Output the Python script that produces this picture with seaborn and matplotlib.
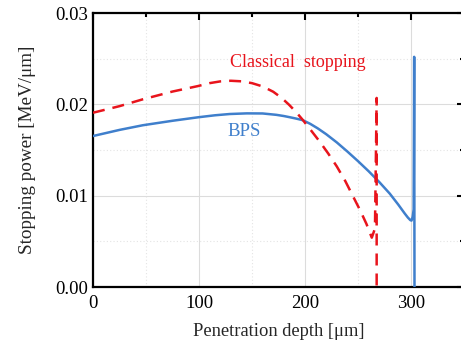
import numpy as np
import pandas as pd
import matplotlib
matplotlib.use("Agg")
import matplotlib.pyplot as plt
from matplotlib.ticker import MultipleLocator
import seaborn as sns

# Data
bps_depth = [0, 25, 47, 75, 99, 115, 129, 145, 160, 173, 180, 186, 192, 198, 205, 212, 220,
             230, 240, 250, 260, 270, 280, 288, 294, 297, 299.3, 300.5, 301.6, 302.5, 303, 303.3]
bps_power = [0.01653, 0.0172, 0.01771, 0.0182, 0.01858, 0.0188, 0.01894, 0.01901, 0.0190,
             0.01885, 0.01872, 0.01858, 0.01843, 0.01826, 0.01786, 0.01737, 0.01673, 0.01583,
             0.01483, 0.01378, 0.01268, 0.0115, 0.01022, 0.00902, 0.00806, 0.00761, 0.00733,
             0.00727, 0.0077, 0.0085, 0.0252, 0.0]

cls_depth = [0, 25, 47, 75, 99, 110, 120, 130, 140, 150, 160, 170, 178, 185, 192, 198, 206,
             214, 222, 230, 238, 245, 252, 258, 263, 266, 267.6, 267.6]
cls_power = [0.01908, 0.0198, 0.02055, 0.0214, 0.0220, 0.02232, 0.02251, 0.02258, 0.02252,
             0.02232, 0.02196, 0.02138, 0.0207, 0.01995, 0.0191, 0.01828, 0.0171, 0.0159,
             0.0146, 0.0132, 0.0116, 0.0100, 0.0084, 0.0069, 0.0054, 0.0064, 0.0207, 0.0]

x_ticks = [0, 100, 200, 300]
y_ticks = [0.00, 0.01, 0.02, 0.03]
y_labels = ["0.00", "0.01", "0.02", "0.03"]

BLUE = "#3f7fcc"
RED = "#e8141c"

sns.set_style("white")
plt.rcParams["font.family"] = ["Liberation Serif", "DejaVu Serif"]

fig = plt.figure(figsize=(4.61, 3.5), dpi=100)
ax = fig.add_axes([93 / 461, 63 / 350, (464 - 93) / 461, (287 - 13) / 350])

bps = pd.DataFrame({"depth": bps_depth, "power": bps_power})
cls = pd.DataFrame({"depth": cls_depth, "power": cls_power})

sns.lineplot(data=bps, x="depth", y="power", ax=ax, sort=False, estimator=None,
             color=BLUE, linewidth=1.8, zorder=3)
sns.lineplot(data=cls, x="depth", y="power", ax=ax, sort=False, estimator=None,
             color=RED, linewidth=1.8, zorder=4)
ax.lines[-1].set_linestyle((0, (4.8, 3.2)))
for ln in ax.lines:
    ln.set_solid_joinstyle("round")
    ln.set_dash_joinstyle("round")

ax.set_xlim(0, 350)
ax.set_ylim(0, 0.03)
ax.set_xticks(x_ticks)
ax.set_yticks(y_ticks)
ax.set_yticklabels(y_labels)
ax.xaxis.set_minor_locator(MultipleLocator(50))
ax.yaxis.set_minor_locator(MultipleLocator(0.005))

ax.grid(which="major", color="#dcdcdc", linewidth=0.8, linestyle="-", zorder=0)
ax.grid(which="minor", color="#e4e4e4", linewidth=0.8, linestyle=(0, (1, 2)), zorder=0)
ax.set_axisbelow(True)

ax.tick_params(which="both", direction="in", top=True, right=True, labelsize=13.5,
               width=1.5, colors="black")
ax.tick_params(which="major", length=5)
ax.tick_params(which="minor", length=3)
ax.tick_params(axis="x", pad=6)
for s in ax.spines.values():
    s.set_linewidth(1.6)
    s.set_color("black")

ax.set_xlabel("Penetration depth [μm]", fontsize=13.3, labelpad=8)
ax.set_ylabel("Stopping power [MeV/μm]", fontsize=13.8, labelpad=14)

ax.text(193, 0.0246, "Classical  stopping", color=RED, fontsize=13, ha="center", va="center")
ax.text(143, 0.0170, "BPS", color=BLUE, fontsize=13.5, ha="center", va="center")

fig.savefig("out.png", dpi=100)
